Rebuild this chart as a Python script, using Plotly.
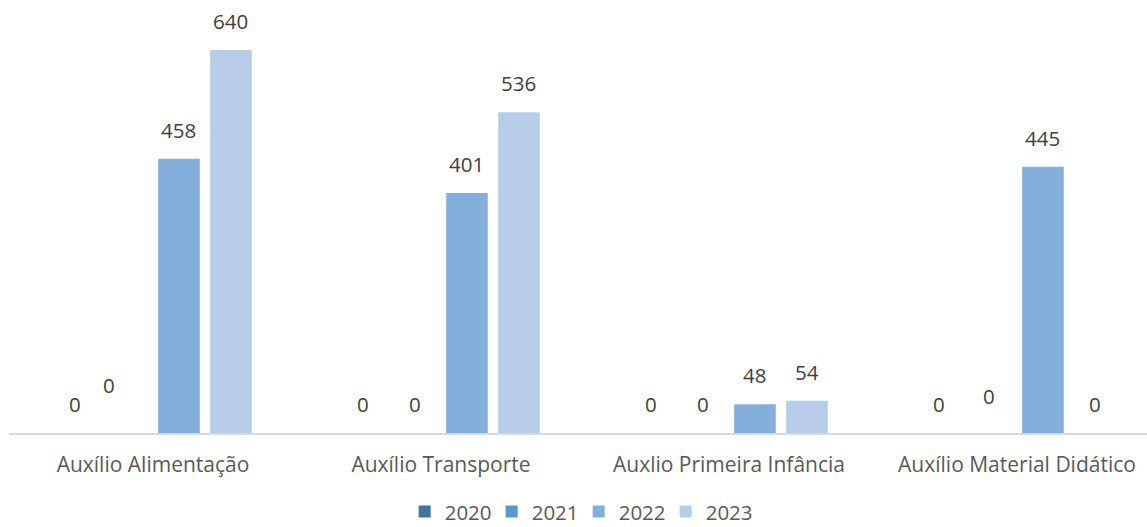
import plotly.graph_objects as go

categories = ["Auxílio Alimentação", "Auxílio Transporte", "Auxlio Primeira Infância", "Auxílio Material Didático"]
years = ["2020", "2021", "2022", "2023"]
v2020 = [0, 0, 0, 0]
v2021 = [0, 0, 0, 0]
v2022 = [458, 401, 48, 445]
v2023 = [640, 536, 54, 0]
series = [v2020, v2021, v2022, v2023]
colors = ["#44729F", "#5B96CD", "#84AEDC", "#B7CCE8"]

FONT = "Open Sans"
BARGAP = 0.278
fig = go.Figure()
for name, vals, col in zip(years, series, colors):
    fig.add_trace(go.Bar(x=categories, y=vals, name=name, marker=dict(color=col, line=dict(width=0))))

# data labels (Excel-like), nudges mimic the original label collision handling
nudges = {(0, 1): (-18, 19), (3, 1): (-2, 8)}
slot = (1 - BARGAP) / len(years)
for k, vals in enumerate(series):
    off = (k - (len(years) - 1) / 2) * slot
    for i, v in enumerate(vals):
        dx, dy = nudges.get((i, k), (0, 0))
        fig.add_annotation(x=i + off, y=v, text=str(v), showarrow=False, xref="x", yref="y",
                           yanchor="bottom", yshift=13 + dy, xshift=dx,
                           font=dict(family=FONT, size=20.5, color="#404040"))

fig.update_layout(
    width=1147, height=527,
    margin=dict(l=9, r=0, t=14, b=94, autoexpand=False),
    plot_bgcolor="white", paper_bgcolor="white",
    barmode="group", bargap=BARGAP, bargroupgap=0.2,
    showlegend=True,
    legend=dict(orientation="h", xref="container", yref="paper", x=0.5045, xanchor="center",
                y=-0.188, yanchor="middle", font=dict(family=FONT, size=20.5, color="#595959"),
                entrywidth=42, itemwidth=30, tracegroupgap=0),
    xaxis=dict(range=[-0.5, 3.4514], showgrid=False, showline=True, linecolor="#D9D9D9", linewidth=1.5,
               ticks="", ticklabelstandoff=12, automargin=False,
               tickfont=dict(family=FONT, size=21, color="#595959"), fixedrange=True),
    yaxis=dict(range=[0, 700], visible=False, showgrid=False, zeroline=False, automargin=False),
    font=dict(family=FONT),
)
fig.write_html("out.html", config={"displayModeBar": False},
               post_script="document.body.style.margin='0';document.body.style.overflow='hidden';")
